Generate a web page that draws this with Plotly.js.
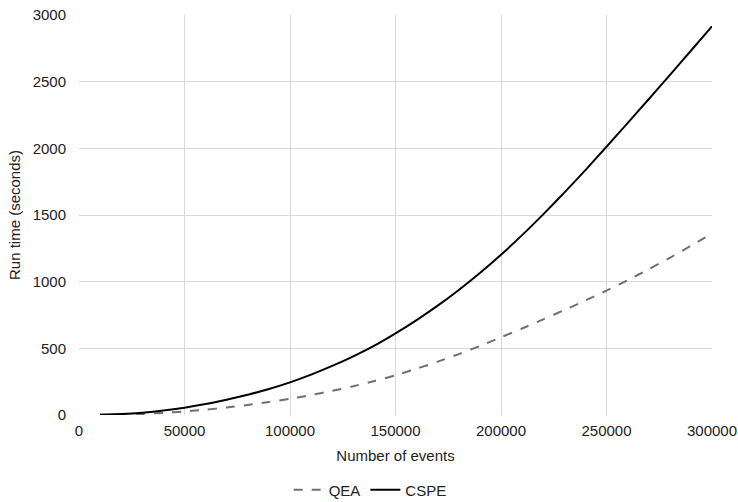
<!DOCTYPE html>
<html>
<head>
<meta charset="utf-8">
<script src="https://cdn.plot.ly/plotly-3.0.1.min.js"></script>
<style>html,body{margin:0;padding:0;background:#fff;}#chart{width:738px;height:502px;}</style>
</head>
<body>
<div id="chart"></div>
<script>
const events = [10000,20000,30000,40000,50000,60000,70000,80000,90000,100000,
  110000,120000,130000,140000,150000,160000,170000,180000,190000,200000,
  210000,220000,230000,240000,250000,260000,270000,280000,290000,300000];
const qea = [1,3,8,16,27,40,56,75,97,122,
  150,181,216,255,298,347,400,457,518,583,
  649,717,787,859,933,1011,1093,1179,1269,1362];
const cspe = [2,7,17,33,55,82,115,152,195,245,
  303,368,440,520,612,712,820,938,1065,1202,
  1349,1505,1668,1837,2012,2189,2368,2549,2732,2915];
const xTicks = [0,50000,100000,150000,200000,250000,300000];
const yTicks = [0,500,1000,1500,2000,2500,3000];

const font = {family: '"Liberation Sans", Arial, Helvetica, sans-serif', size: 15, color: '#222'};

const traces = [
  {x: events, y: qea, name: 'QEA', type: 'scatter', mode: 'lines',
   line: {color: '#707070', width: 2, dash: 'dash', shape: 'spline', smoothing: 0.6}},
  {x: events, y: cspe, name: 'CSPE', type: 'scatter', mode: 'lines',
   line: {color: '#000000', width: 2, shape: 'spline', smoothing: 0.6}}
];

const layout = {
  width: 738, height: 502,
  margin: {l: 79, r: 26, t: 15, b: 87, autoexpand: false},
  paper_bgcolor: '#fff', plot_bgcolor: '#fff',
  font: font,
  showlegend: true,
  legend: {orientation: 'h', x: 0.46, xanchor: 'center', y: -0.1875, yanchor: 'middle',
           font: font, itemwidth: 30, tracegroupgap: 0},
  xaxis: {range: [0, 300000], tickvals: xTicks, ticktext: xTicks.map(String),
          showgrid: true, gridcolor: '#d9d9d9', gridwidth: 1, zeroline: false,
          showline: false, ticks: '', ticklabelstandoff: 5, automargin: false,
          title: {text: 'Number of events', font: font, standoff: 12}},
  yaxis: {range: [0, 3000], tickvals: yTicks, ticktext: yTicks.map(String),
          showgrid: true, gridcolor: '#d9d9d9', gridwidth: 1, zeroline: false,
          showline: false, ticks: '', ticklabelstandoff: 12, automargin: false,
          title: {text: 'Run time (seconds)', font: font, standoff: 8}}
};

Plotly.newPlot('chart', traces, layout, {displayModeBar: false, staticPlot: true});
</script>
</body>
</html>
